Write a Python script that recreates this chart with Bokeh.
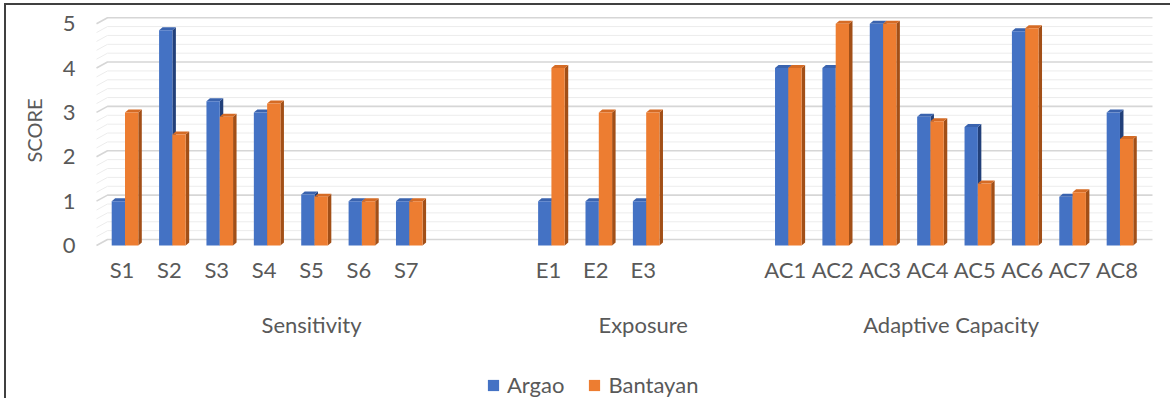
import numpy as np
from bokeh.plotting import figure
from bokeh.layouts import column
from bokeh.models import Range1d, LinearAxis, FixedTicker, Legend, LegendItem, ColumnDataSource
from bokeh.embed import file_html
from bokeh.resources import INLINE

# ---------------- data ----------------
groups = ["Sensitivity", "Exposure", "Adaptive Capacity"]
sens_items = ["S1", "S2", "S3", "S4", "S5", "S6", "S7"]
expo_items = ["E1", "E2", "E3"]
adap_items = ["AC1", "AC2", "AC3", "AC4", "AC5", "AC6", "AC7", "AC8"]
argao = [1.0, 4.85, 3.25, 3.0, 1.15, 1.0, 1.0,
         1.0, 1.0, 1.0,
         4.0, 4.0, 5.0, 2.9, 2.67, 4.83, 1.1, 3.0]
bantayan = [3.0, 2.5, 2.9, 3.2, 1.1, 1.0, 1.0,
            4.0, 3.0, 3.0,
            4.0, 5.0, 5.0, 2.8, 1.4, 4.9, 1.2, 2.4]
series_names = ["Argao", "Bantayan"]
series_colors = ["#4472C4", "#ED7D31"]
y_ticks = [0, 1, 2, 3, 4, 5]

# ---------------- layout helpers ----------------
FONT = "Lato"
TXT = "#595959"
GAP = 2  # empty category slots between groups

group_items = [sens_items, expo_items, adap_items]
xs, labels, group_centers = [], [], []
pos = 0
for gi, items in enumerate(group_items):
    start = pos
    for it in items:
        xs.append(pos)
        labels.append(it)
        pos += 1
    end = pos - 1 + (GAP if gi < len(group_items) - 1 else 0)
    group_centers.append((start + end) / 2)
    pos += GAP
xs = np.array(xs, dtype=float)

W = 1164
H1, H2 = 360, 33
MBL, MBT = 89, 7
FW, FH = 1058, 236
MBR = W - MBL - FW
MBB = H1 - MBT - FH
UX, UY = 47.38, 44.36          # px per category / per score unit
X0 = -26.5 / UX
X1 = X0 + FW / UX
Y1 = 233.0 / UY
Y0 = Y1 - FH / UY

p = figure(width=W, height=H1, x_range=Range1d(X0, X1), y_range=Range1d(Y0, Y1),
           output_backend="svg", toolbar_location=None,
           min_border_left=MBL, min_border_right=MBR, min_border_top=MBT, min_border_bottom=MBB)
p.xgrid.visible = False
p.ygrid.visible = False
p.outline_line_color = None

# ---------------- 3D back wall gridlines ----------------
wall_dx = 11 / UX
wall_dy = 6 / UY
x_front = X0 + 1 / UX
x_back = x_front + wall_dx
x_right = X1 - 1 / UX
levels = np.round(np.arange(0, 5.0001, 0.2), 2)
minor = [v for v in levels if abs(v - round(v)) > 1e-6]
p.multi_line(xs=[[x_front, x_back, x_right] for _ in minor],
             ys=[[v, v + wall_dy, v + wall_dy] for v in minor],
             line_color="#ececec", line_width=1)
p.multi_line(xs=[[x_front, x_back, x_right] for _ in y_ticks],
             ys=[[v, v + wall_dy, v + wall_dy] for v in y_ticks],
             line_color="#d6d6d6", line_width=1.6)

# ---------------- 3D bars ----------------
bw = 13.3 / UX
shift = 3 / UX
bdx = 3.5 / UX
bdy = 3 / UY


def draw_series(vals, left, front, top_c, side_c):
    vals = np.array(vals, dtype=float)
    right = left + bw
    side_xs = [[r, r, r + bdx, r + bdx] for r in right]
    side_ys = [[0, t, t + bdy, bdy] for t in vals]
    top_xs = [[l, r, r + bdx, l + bdx] for l, r in zip(left, right)]
    top_ys = [[t, t, t + bdy, t + bdy] for t in vals]
    p.patches(side_xs, side_ys, fill_color=side_c, line_color=None)
    p.patches(top_xs, top_ys, fill_color=top_c, line_color=None)
    src = ColumnDataSource(dict(left=left, right=right, top=vals, bottom=np.zeros_like(vals)))
    return p.quad(left="left", right="right", top="top", bottom="bottom", source=src,
                  fill_color=front, line_color=None)


draw_series(argao, xs + shift - bw, series_colors[0], "#3A63AE", "#22407A")
draw_series(bantayan, xs + shift, series_colors[1], "#D56B25", "#A24F17")

# ---------------- axes ----------------
yax = p.yaxis[0]
yax.ticker = FixedTicker(ticks=y_ticks)
yax.axis_line_color = None
yax.major_tick_line_color = None
yax.minor_tick_line_color = None
yax.major_tick_out = 0
yax.major_label_standoff = 20
yax.major_label_text_font = FONT
yax.major_label_text_font_size = "22px"
yax.major_label_text_color = TXT
yax.axis_label = "SCORE"
yax.axis_label_standoff = 14
yax.axis_label_text_font = FONT
yax.axis_label_text_font_size = "20px"
yax.axis_label_text_font_style = "normal"
yax.axis_label_text_color = TXT

xax = p.xaxis[0]
xax.ticker = FixedTicker(ticks=list(xs))
xax.major_label_overrides = {int(x): lab for x, lab in zip(xs, labels)}
xax.axis_line_color = None
xax.major_tick_line_color = None
xax.minor_tick_line_color = None
xax.major_tick_out = 0
xax.major_label_standoff = 7
xax.major_label_text_font = FONT
xax.major_label_text_font_size = "22px"
xax.major_label_text_color = TXT

p.extra_x_ranges = {"grp": Range1d(2 * X0, 2 * X1)}
gticks = [int(round(2 * c)) for c in group_centers]
gax = LinearAxis(x_range_name="grp", ticker=FixedTicker(ticks=gticks),
                 major_label_overrides={t: g for t, g in zip(gticks, groups)})
gax.axis_line_color = None
gax.major_tick_line_color = None
gax.minor_tick_line_color = None
gax.major_tick_out = 0
gax.major_label_standoff = 25
gax.major_label_text_font = FONT
gax.major_label_text_font_size = "22px"
gax.major_label_text_color = TXT
p.add_layout(gax, "below")

# ---------------- legend strip ----------------
leg = figure(width=W, height=H2, x_axis_type=None, y_axis_type=None,
             output_backend="svg", toolbar_location=None, min_border=0,
             x_range=Range1d(0, 1), y_range=Range1d(0, 1))
leg.outline_line_color = None
leg.xgrid.visible = False
leg.ygrid.visible = False
items = []
for name, col in zip(series_names, series_colors):
    # swatch-only renderer, its single quad lies outside the strip's visible range
    r = leg.quad(left=[5], right=[6], top=[6], bottom=[5], fill_color=col, line_color=None)
    items.append(LegendItem(label=name, renderers=[r]))
legend = Legend(items=items, orientation="horizontal", location=(391, 0),
                glyph_width=14, glyph_height=14, label_standoff=7, spacing=23,
                padding=0, margin=0, label_height=20, border_line_color=None,
                background_fill_alpha=0,
                label_text_font=FONT, label_text_font_size="22px", label_text_color=TXT)
leg.add_layout(legend, "center")

layout = column(p, leg, spacing=0,
                styles={"margin-left": "4px", "margin-top": "3px",
                        "border-left": "2px solid #404040", "border-top": "2px solid #404040"})

open("out.html", "w").write(file_html(layout, INLINE))
